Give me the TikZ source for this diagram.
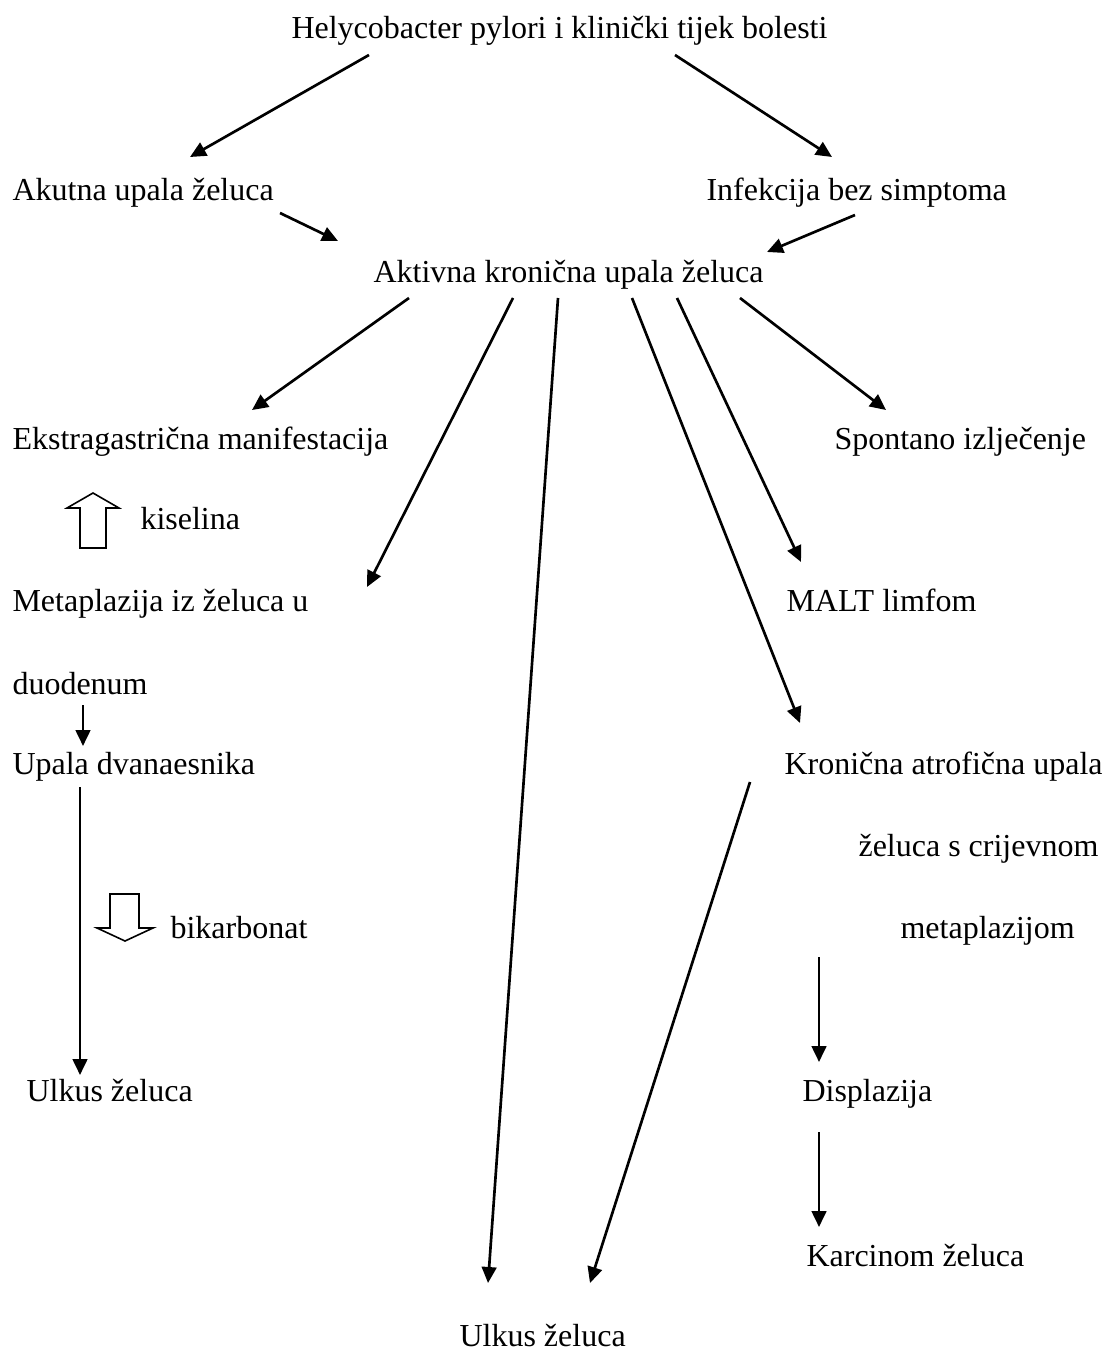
\documentclass[tikz,border=0pt]{standalone}
\usepackage{fontspec}
\setmainfont{Liberation Serif}
\usetikzlibrary{arrows.meta}

\begin{document}
\begin{tikzpicture}[
  x=0.375pt, y=-0.375pt,
  lbl/.style={anchor=base west, inner sep=0pt, font=\fontsize{12}{14}\selectfont},
  arr/.style={-{Triangle[length=6pt, width=5.5pt]}, line width=1pt},
  hollow/.style={draw, line width=0.6pt, line join=miter}
]
  \useasboundingbox (0,0) rectangle (1107,1351);

  % text lines
  \node[lbl] (hp) at (291,39) {Helycobacter pylori i klinički tijek bolesti};
  \node[lbl] (akutna) at (12,201) {Akutna upala želuca};
  \node[lbl] (infekcija) at (706,201) {Infekcija bez simptoma};
  \node[lbl] (aktivna) at (373,283) {Aktivna kronična upala želuca};
  \node[lbl] (ekstra) at (12,449) {Ekstragastrična manifestacija};
  \node[lbl] (spont) at (834,449) {Spontano izlječenje};
  \node[lbl] (kiselina) at (140,529) {kiselina};
  \node[lbl] (meta1) at (12,611) {Metaplazija iz želuca u};
  \node[lbl] (malt) at (786,611) {MALT limfom};
  \node[lbl] (meta2) at (12,694) {duodenum};
  \node[lbl] (upala) at (12,774) {Upala dvanaesnika};
  \node[lbl] (atrof1) at (784,774) {Kronična atrofična upala};
  \node[lbl] (atrof2) at (858,856) {želuca s crijevnom};
  \node[lbl] (bikarb) at (170,938) {bikarbonat};
  \node[lbl] (atrof3) at (900,938) {metaplazijom};
  \node[lbl] (ulkusA) at (26,1101) {Ulkus želuca};
  \node[lbl] (displ) at (802,1101) {Displazija};
  \node[lbl] (karc) at (806,1266) {Karcinom želuca};
  \node[lbl] (ulkusB) at (459,1346) {Ulkus želuca};

  % arrows
  \draw[arr] ([shift={(78,16)}]hp.base west) -- ([shift={(178,-44)}]akutna.base west);
  \draw[arr] ([shift={(384,16)}]hp.base west) -- ([shift={(126,-44)}]infekcija.base west);
  \draw[arr] ([shift={(268,12)}]akutna.base west) -- ([shift={(-35,-42)}]aktivna.base west);
  \draw[arr] ([shift={(149,14)}]infekcija.base west) -- ([shift={(394,-31)}]aktivna.base west);
  \draw[arr] ([shift={(36,15)}]aktivna.base west) -- ([shift={(240,-39)}]ekstra.base west);
  \draw[arr] ([shift={(140,15)}]aktivna.base west) -- ([shift={(355,-24)}]meta1.base west);
  \draw[arr] ([shift={(185,15)}]aktivna.base west) -- ([shift={(29,-63)}]ulkusB.base west);
  \draw[arr] ([shift={(259,15)}]aktivna.base west) -- ([shift={(16,-51)}]atrof1.base west);
  \draw[arr] ([shift={(304,15)}]aktivna.base west) -- ([shift={(15,-49)}]malt.base west);
  \draw[arr] ([shift={(367,15)}]aktivna.base west) -- ([shift={(52,-39)}]spont.base west);
  \draw[arr] ([shift={(71,11)}]meta2.base west) -- ([shift={(71,-28)}]upala.base west);
  \draw[arr] ([shift={(68,13)}]upala.base west) -- ([shift={(54,-26)}]ulkusA.base west);
  \draw[arr] ([shift={(-34,8)}]atrof1.base west) -- ([shift={(131,-63)}]ulkusB.base west);
  \draw[arr] ([shift={(-81,19)}]atrof3.base west) -- ([shift={(17,-39)}]displ.base west);
  \draw[arr] ([shift={(17,31)}]displ.base west) -- ([shift={(13,-39)}]karc.base west);

  % hollow arrows
  \draw[hollow] (80,548) -- (80,508) -- (67,508) -- (93,493) -- (119,508)
    -- (106,508) -- (106,548) -- cycle;
  \draw[hollow] (110,894) -- (139,894) -- (139,928) -- (153,928) -- (125,941)
    -- (97,928) -- (110,928) -- cycle;
\end{tikzpicture}
\end{document}
